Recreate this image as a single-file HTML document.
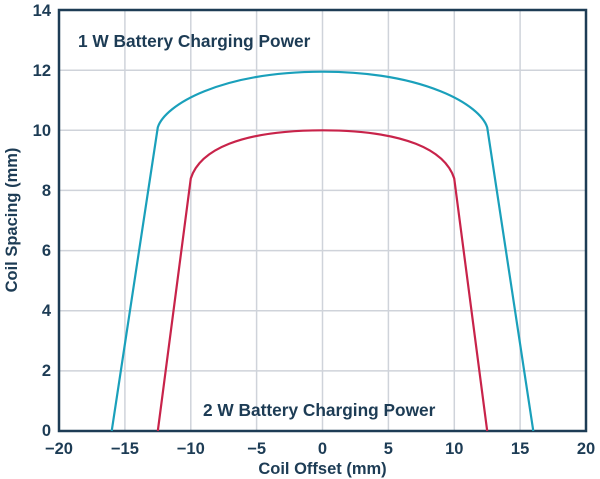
<!DOCTYPE html>
<html><head><style>body{margin:0;background:#fff}svg{display:block}</style></head><body>
<svg width="600" height="479" xmlns="http://www.w3.org/2000/svg" font-family="Liberation Sans, Arial, sans-serif" font-weight="bold" fill="#1d3c55">
<g stroke="#cfd3da" stroke-width="1.5">
<line x1="124.9" y1="10" x2="124.9" y2="431"/><line x1="190.8" y1="10" x2="190.8" y2="431"/><line x1="256.6" y1="10" x2="256.6" y2="431"/><line x1="322.5" y1="10" x2="322.5" y2="431"/><line x1="388.4" y1="10" x2="388.4" y2="431"/><line x1="454.3" y1="10" x2="454.3" y2="431"/><line x1="520.1" y1="10" x2="520.1" y2="431"/>
<line x1="59" y1="70.2" x2="586" y2="70.2"/><line x1="59" y1="130.3" x2="586" y2="130.3"/><line x1="59" y1="190.4" x2="586" y2="190.4"/><line x1="59" y1="250.6" x2="586" y2="250.6"/><line x1="59" y1="310.7" x2="586" y2="310.7"/><line x1="59" y1="370.9" x2="586" y2="370.9"/>
</g>
<rect x="59" y="10" width="527" height="421" fill="none" stroke="#1d3c55" stroke-width="2.5"/>
<path d="M111.7,431 L157.8,127.3 C165,105 220,72 322.5,71.7 C425,72 480,105 487.2,127.3 L533.3,431" fill="none" stroke="#1aa0bb" stroke-width="2.2"/>
<path d="M157.8,431 L190.8,178.4 C200,150 240,130.5 322.5,130.3 C405,130.5 445,150 454.2,178.4 L487.2,431" fill="none" stroke="#c8234a" stroke-width="2.2"/>
<g font-size="17.3">
<text x="78" y="47">1 W Battery Charging Power</text>
<text x="203" y="416">2 W Battery Charging Power</text>
</g>
<g font-size="16.5" text-anchor="end">
<text x="51" y="16">14</text><text x="51" y="76">12</text><text x="51" y="136">10</text><text x="51" y="196">8</text><text x="51" y="256">6</text><text x="51" y="316">4</text><text x="51" y="376">2</text><text x="51" y="436">0</text>
</g>
<g font-size="16.5" text-anchor="middle">
<text x="59" y="454">−20</text><text x="124.9" y="454">−15</text><text x="190.8" y="454">−10</text><text x="256.6" y="454">−5</text><text x="322.5" y="454">0</text><text x="388.4" y="454">5</text><text x="454.3" y="454">10</text><text x="520.1" y="454">15</text><text x="586" y="454">20</text>
<text x="322.5" y="474">Coil Offset (mm)</text>
<text transform="translate(17,220) rotate(-90)">Coil Spacing (mm)</text>
</g>
</svg>
</body></html>
